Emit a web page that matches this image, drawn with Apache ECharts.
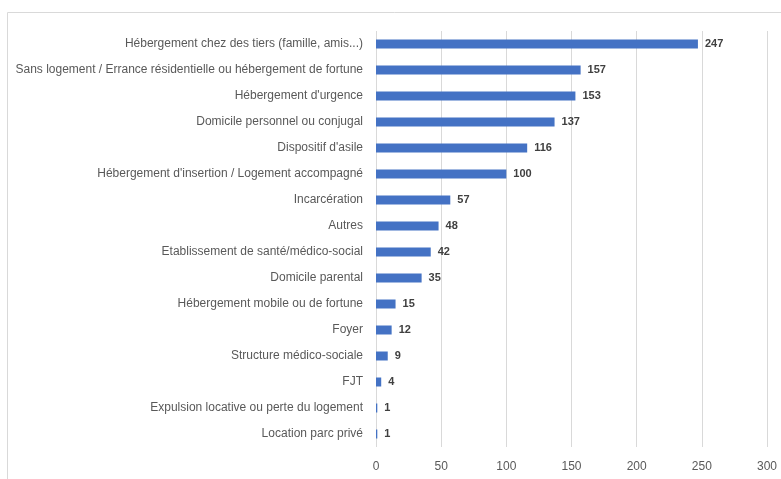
<!DOCTYPE html>
<html>
<head>
<meta charset="utf-8">
<script src="https://cdn.jsdelivr.net/npm/echarts@6/dist/echarts.min.js"></script>
<style>
  html, body { margin: 0; padding: 0; background: #fff; }
  #chart { width: 781px; height: 479px; }
</style>
</head>
<body>
<div id="chart"></div>
<script>
  // categories from top to bottom, as in the picture
  const categories = [
    'Hébergement chez des tiers (famille, amis...)',
    'Sans logement / Errance résidentielle ou hébergement de fortune',
    "Hébergement d'urgence",
    'Domicile personnel ou conjugal',
    "Dispositif d'asile",
    "Hébergement d'insertion / Logement accompagné",
    'Incarcération',
    'Autres',
    'Etablissement de santé/médico-social',
    'Domicile parental',
    'Hébergement mobile ou de fortune',
    'Foyer',
    'Structure médico-sociale',
    'FJT',
    'Expulsion locative ou perte du logement',
    'Location parc privé',
  ];
  const values = [247, 157, 153, 137, 116, 100, 57, 48, 42, 35, 15, 12, 9, 4, 1, 1];
  const xTicks = [0, 50, 100, 150, 200, 250, 300];

  const labelFont = '"Liberation Sans", sans-serif';
  const chart = echarts.init(document.getElementById('chart'));

  const option = {
    animation: false,
    graphic: [
      {
        type: 'rect',
        shape: { x: 7.5, y: 12.5, width: 800, height: 500 },
        style: { fill: 'none', stroke: '#d9d9d9', lineWidth: 1 },
        silent: true,
      },
    ],
    grid: { left: 376, right: 14, top: 31, bottom: 32, outerBoundsMode: 'none' },
    xAxis: {
      type: 'value',
      min: xTicks[0],
      max: xTicks[xTicks.length - 1],
      interval: 50,
      axisLine: { show: false },
      axisTick: { show: false },
      axisLabel: {
        color: '#595959',
        fontFamily: labelFont,
        fontSize: 12,
        margin: 14,
      },
      splitLine: { lineStyle: { color: '#d9d9d9', width: 1 } },
    },
    yAxis: {
      type: 'category',
      inverse: true,
      data: categories,
      axisLine: { show: false },
      axisTick: { show: false },
      axisLabel: {
        color: '#595959',
        fontFamily: labelFont,
        fontSize: 12,
        margin: 13,
      },
    },
    series: [
      {
        type: 'bar',
        data: values,
        barWidth: 9,
        itemStyle: { color: '#4472c4' },
        label: {
          show: true,
          position: 'right',
          distance: 7,
          color: '#404040',
          fontFamily: labelFont,
          fontWeight: 'bold',
          fontSize: 11,
        },
      },
    ],
  };

  chart.setOption(option);
</script>
</body>
</html>
